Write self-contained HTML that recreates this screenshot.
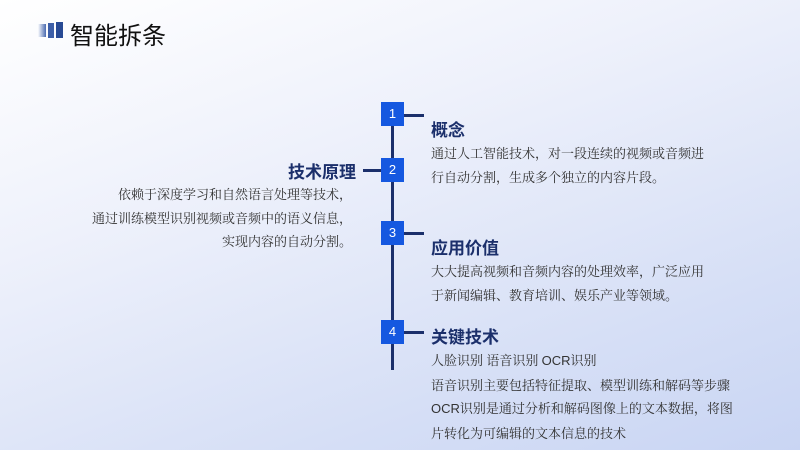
<!DOCTYPE html>
<html><head><meta charset="utf-8"><style>
body{margin:0}
#c{position:relative;width:800px;height:450px;overflow:hidden;background:linear-gradient(160deg,#ffffff 0%,#eef1fb 35%,#d6dff6 75%,#c9d5f3 100%);font-family:"Noto Sans CJK SC",sans-serif}
.a{position:absolute;white-space:nowrap}
.h{font-size:17px;font-weight:bold;color:#1b2f6b;line-height:20px}
.b{font-family:"Noto Serif CJK SC",serif;font-size:13px;color:#333;line-height:23.5px}
.box{position:absolute;left:381px;width:23px;height:24px;background:#1558e0;color:#fff;font-size:13px;text-align:center;line-height:24px;font-family:"Liberation Sans",sans-serif}
.ln{position:absolute;background:#1b2f6b}
</style></head><body><div id="c">
<div class="a" style="left:38px;top:24px;width:8px;height:13px;background:linear-gradient(90deg,rgba(60,90,160,0),#4a6bb0)"></div>
<div class="a" style="left:48px;top:23px;width:6px;height:15px;background:#3d5fa8"></div>
<div class="a" style="left:56px;top:22px;width:7px;height:16px;background:#284a94"></div>
<div class="a" style="left:70px;top:19px;font-size:24px;color:#111;line-height:30px">智能拆条</div>
<div class="ln" style="left:391px;top:114px;width:3px;height:256px"></div>
<div class="ln" style="left:404px;top:114px;width:20px;height:3px"></div>
<div class="ln" style="left:363px;top:169px;width:18px;height:3px"></div>
<div class="ln" style="left:404px;top:232px;width:20px;height:3px"></div>
<div class="ln" style="left:404px;top:331px;width:20px;height:3px"></div>
<div class="box" style="top:102px">1</div>
<div class="box" style="top:158px">2</div>
<div class="box" style="top:221px">3</div>
<div class="box" style="top:320px">4</div>
<div class="a h" style="left:431px;top:119px">概念</div>
<div class="a b" style="left:431px;top:141px">通过人工智能技术，对一段连续的视频或音频进<br>行自动分割，生成多个独立的内容片段。</div>
<div class="a h" style="right:444px;top:161px">技术原理</div>
<div class="a b" style="right:448px;top:182px;text-align:right">依赖于深度学习和自然语言处理等技术，<br>通过训练模型识别视频或音频中的语义信息，<br>实现内容的自动分割。</div>
<div class="a h" style="left:431px;top:237px">应用价值</div>
<div class="a b" style="left:431px;top:259px">大大提高视频和音频内容的处理效率，广泛应用<br>于新闻编辑、教育培训、娱乐产业等领域。</div>
<div class="a h" style="left:431px;top:326px">关键技术</div>
<div class="a b" style="left:431px;top:348px">人脸识别 语音识别 <span style="font-family:'Liberation Sans',sans-serif">OCR</span>识别<br>语音识别主要包括特征提取、模型训练和解码等步骤<br><span style="font-family:'Liberation Sans',sans-serif">OCR</span>识别是通过分析和解码图像上的文本数据，将图<br>片转化为可编辑的文本信息的技术</div>
</div></body></html>
